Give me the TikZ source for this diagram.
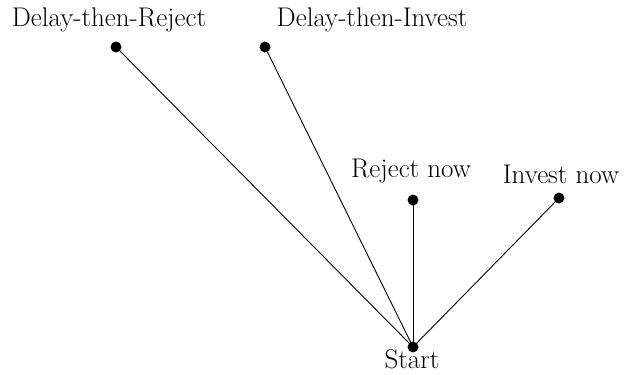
\documentclass[tikz,border=0pt]{standalone}
\usepackage{fontspec}
\setmainfont{Latin Modern Roman}
\begin{document}
\begin{tikzpicture}[x=1pt,y=-1pt,
  dot/.style={circle,fill=black,inner sep=0pt,minimum size=11pt},
  lbl/.style={inner sep=0pt,anchor=base,font=\fontsize{27}{32}\selectfont},
  edge/.style={line width=0.9pt}]
\useasboundingbox (0,0) rectangle (627,375);
\node[dot] (start) at (413,347) {};
\node[dot] (dr) at (116,47) {};
\node[dot] (di) at (265,47) {};
\node[dot] (rn) at (413,200) {};
\node[dot] (in) at (559,198) {};
\node[lbl] (tdr) at (109,26) {Delay-then-Reject};
\node[lbl] (tdi) at (372,26) {Delay-then-Invest};
\node[lbl] (trn) at (411,177) {Reject now};
\node[lbl] (tin) at (561,183) {Invest now};
\node[lbl] (tst) at (412,368) {Start};
\draw[edge] (start.center) -- (dr.center);
\draw[edge] (start.center) -- (di.center);
\draw[edge] (start.center) -- (rn.center);
\draw[edge] (start.center) -- (in.center);
\end{tikzpicture}
\end{document}
